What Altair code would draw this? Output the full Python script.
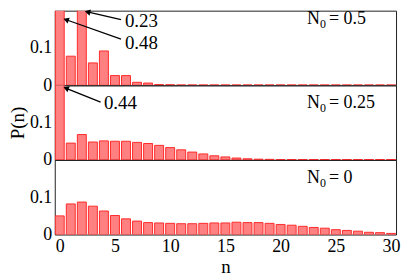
import altair as alt
import pandas as pd

n_values = list(range(31))

# P(n) for N0 = 0.5 (top), 0.25 (middle), 0 (bottom)
p_n0_05 = [0.48, 0.078, 0.23, 0.060, 0.092, 0.026, 0.026, 0.008, 0.006, 0.002,
           0.0015, 0.001, 0.001, 0.001, 0.001, 0.001, 0.001, 0.001, 0.001, 0.001,
           0.001, 0.001, 0.001, 0.001, 0.001, 0.001, 0.001, 0.001, 0.001, 0.001, 0.001]
p_n0_025 = [0.44, 0.045, 0.068, 0.048, 0.051, 0.050, 0.050, 0.047, 0.044, 0.039,
            0.033, 0.027, 0.021, 0.016, 0.011, 0.008, 0.005, 0.003, 0.002, 0.0015,
            0.001, 0.001, 0.001, 0.001, 0.001, 0.001, 0.001, 0.001, 0.001, 0.001, 0.001]
p_n0_0 = [0.050, 0.082, 0.087, 0.076, 0.063, 0.051, 0.042, 0.036, 0.032, 0.031,
          0.030, 0.029, 0.029, 0.030, 0.031, 0.031, 0.033, 0.032, 0.032, 0.030,
          0.027, 0.025, 0.022, 0.019, 0.017, 0.013, 0.011, 0.009, 0.006, 0.005, 0.003]

panel_labels = ["= 0.5", "= 0.25", "= 0"]
x_ticks = [0, 5, 10, 15, 20, 25, 30]
y_ticks = [0, 0.1]

# annotations: (text, text_x, text_y, tail_x, tail_y, head_x, head_y, head_angle)
ann_top = [
    ("0.23", 5.9, 0.172, 5.55, 0.176, 2.6, 0.196, 283),
    ("0.48", 5.9, 0.113, 5.55, 0.124, 0.65, 0.175, 290),
]
ann_mid = [
    ("0.44", 4.0, 0.152, 3.7, 0.155, 0.65, 0.191, 291),
]
ann_bot = []

label_pos = [(22.4, 0.163), (22.4, 0.138), (22.4, 0.138)]

FONT = "Liberation Serif"
W, H = 343, 75
FILL = "#ff8080"
STROKE = "#ff2b2b"

xscale = alt.Scale(domain=[0, 30], nice=False, zero=False)
yscale = alt.Scale(domain=[0, 0.2], nice=False)


def panel(values, label, pos, anns, show_x, show_ytitle):
    df = pd.DataFrame({"n": n_values, "p": values})
    if show_x:
        xaxis = alt.Axis(values=x_ticks, title="n", ticks=False, domain=False,
                         grid=False, labelPadding=3, titlePadding=2)
    else:
        xaxis = None
    yaxis = alt.Axis(values=y_ticks, format="~g", ticks=False, domain=False,
                     grid=False, labelPadding=3,
                     title="P(n)" if show_ytitle else None, titlePadding=2)
    bars = alt.Chart(df).mark_bar(size=9, fill=FILL, stroke=STROKE,
                                  strokeWidth=1, clip=True).encode(
        x=alt.X("n:Q", scale=xscale, axis=xaxis),
        y=alt.Y("p:Q", scale=yscale, axis=yaxis),
    )
    layers = [bars]
    ldf = pd.DataFrame({"x": [pos[0]], "y": [pos[1]], "t": [label]})
    layers.append(alt.Chart(ldf).mark_text(text="N", font=FONT, fontSize=18,
                                           align="left", baseline="alphabetic",
                                           color="black").encode(
        x=alt.X("x:Q", scale=xscale), y=alt.Y("y:Q", scale=yscale)))
    layers.append(alt.Chart(ldf).mark_text(text="0", font=FONT, fontSize=12,
                                           align="left", baseline="alphabetic",
                                           dx=13, dy=4, color="black").encode(
        x=alt.X("x:Q", scale=xscale), y=alt.Y("y:Q", scale=yscale)))
    layers.append(alt.Chart(ldf).mark_text(font=FONT, fontSize=18,
                                           align="left", baseline="alphabetic",
                                           dx=22, color="black").encode(
        x=alt.X("x:Q", scale=xscale), y=alt.Y("y:Q", scale=yscale),
        text="t:N"))
    if anns:
        adf = pd.DataFrame(anns, columns=["t", "tx", "ty", "x1", "y1", "x2", "y2", "ang"])
        layers.append(alt.Chart(adf).mark_text(font=FONT, fontSize=19, align="left",
                                               baseline="middle", color="black").encode(
            x=alt.X("tx:Q", scale=xscale), y=alt.Y("ty:Q", scale=yscale), text="t:N"))
        layers.append(alt.Chart(adf).mark_rule(color="black", strokeWidth=1.3).encode(
            x=alt.X("x1:Q", scale=xscale), y=alt.Y("y1:Q", scale=yscale),
            x2="x2:Q", y2="y2:Q"))
        layers.append(alt.Chart(adf).mark_point(shape="triangle", filled=True,
                                                size=40, color="black", opacity=1).encode(
            x=alt.X("x2:Q", scale=xscale), y=alt.Y("y2:Q", scale=yscale),
            angle=alt.Angle("ang:Q", scale=None)))
    return alt.layer(*layers).properties(width=W, height=H)


top = panel(p_n0_05, panel_labels[0], label_pos[0], ann_top, False, False)
mid = panel(p_n0_025, panel_labels[1], label_pos[1], ann_mid, False, True)
bot = panel(p_n0_0, panel_labels[2], label_pos[2], ann_bot, True, False)

chart = alt.vconcat(top, mid, bot, spacing=0, bounds="flush").properties(
    padding=0
).configure_view(
    stroke="#222222", strokeWidth=1
).configure_axis(
    labelFont=FONT, titleFont=FONT, labelFontSize=18, titleFontSize=19,
    labelColor="black", titleColor="black", titleFontWeight="normal"
)

chart.save("out.html", embed_options={"renderer": "svg", "actions": False})
